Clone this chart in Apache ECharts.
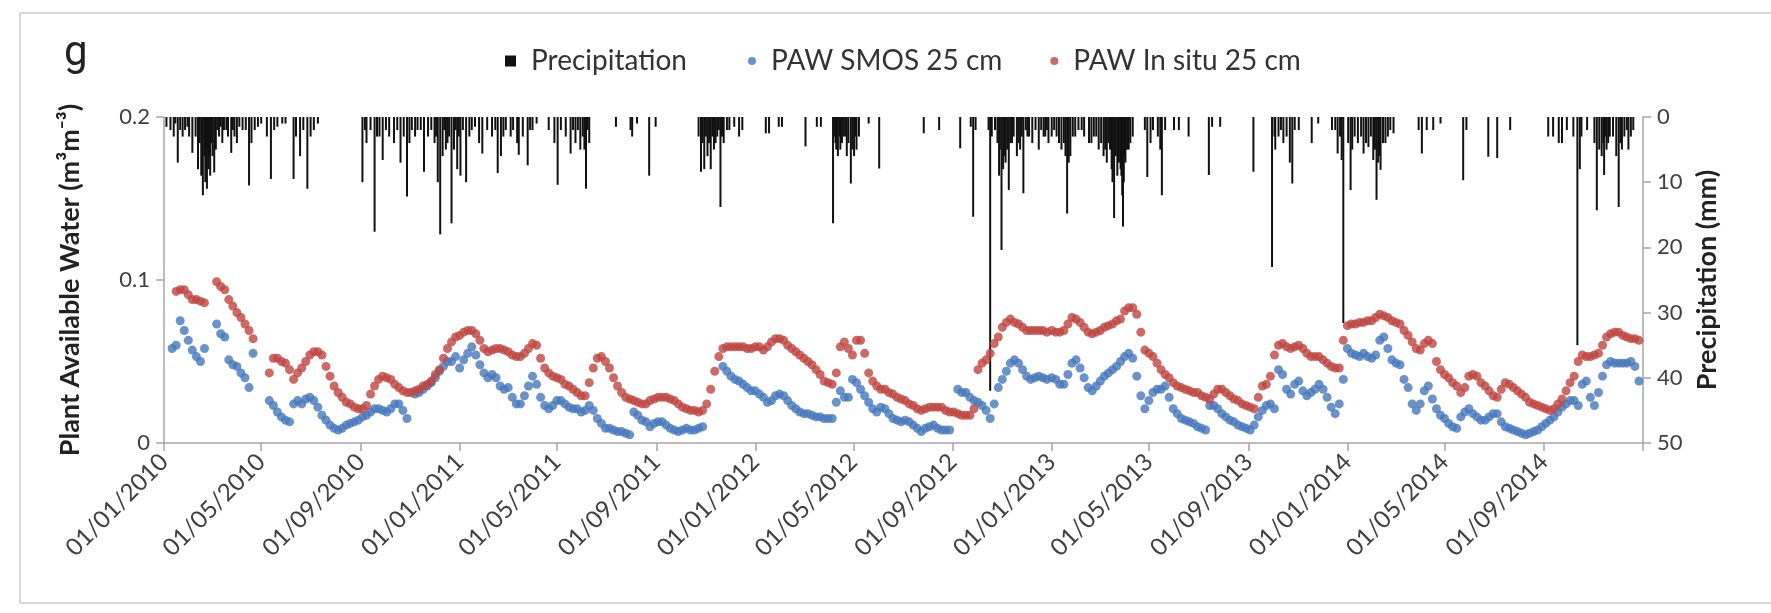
<!DOCTYPE html>
<html>
<head>
<meta charset="utf-8">
<script src="https://cdn.jsdelivr.net/npm/echarts@6/dist/echarts.min.js"></script>
<style>
  html, body { margin: 0; padding: 0; background: #ffffff; }
  #chart { width: 1771px; height: 613px; }
</style>
</head>
<body>
<div id="chart"></div>
<script>
// Plant available water at 25 cm (m3/m3), one value every 5 days from 1 January of each year.
// null marks days without a value.
const smos2010 = [null, null, 0.058, 0.060, 0.075, 0.069, 0.063, 0.057, 0.053, 0.050,
  0.058, null, null, 0.073, 0.067, 0.065, 0.051, 0.048, 0.047, 0.043,
  0.040, 0.034, 0.055, null, null, null, 0.026, 0.023, 0.019, 0.016,
  0.014, 0.013, 0.024, 0.026, 0.024, 0.027, 0.028, 0.026, 0.022, 0.017,
  0.014, 0.011, 0.009, 0.008, 0.009, 0.011, 0.012, 0.013, 0.014, 0.016,
  0.017, 0.019, 0.021, 0.021, 0.020, 0.019, 0.021, 0.024, 0.024, 0.020,
  0.015, null, 0.030, 0.031, 0.033, 0.035, 0.037, 0.040, 0.044, 0.047,
  0.050, 0.050, 0.053];
const situ2010 = [null, null, null, 0.093, 0.094, 0.094, 0.091, 0.088, 0.088, 0.087,
  0.086, null, null, 0.099, 0.096, 0.094, 0.088, 0.084, 0.080, 0.077,
  0.073, 0.069, 0.064, null, null, null, 0.043, 0.052, 0.052, 0.050,
  0.049, 0.045, 0.039, 0.043, 0.046, 0.050, 0.054, 0.056, 0.056, 0.054,
  0.047, 0.041, 0.035, 0.031, 0.028, 0.025, 0.024, 0.022, 0.021, 0.021,
  0.023, 0.030, 0.035, 0.039, 0.041, 0.040, 0.039, 0.036, 0.034, 0.032,
  0.031, 0.031, 0.032, 0.033, 0.035, 0.036, 0.038, 0.042, 0.045, 0.052,
  0.058, 0.062, 0.065];
const smos2011 = [0.046, 0.051, 0.055, 0.059, 0.054, 0.048, 0.043, 0.040, 0.042, 0.040,
  0.035, 0.033, 0.034, 0.028, 0.024, 0.024, 0.029, 0.035, 0.041, 0.036,
  0.028, 0.023, 0.021, 0.023, 0.026, 0.026, 0.024, 0.022, 0.021, 0.021,
  0.019, 0.020, 0.023, 0.020, 0.015, 0.012, 0.009, 0.009, 0.008, 0.007,
  0.007, 0.006, 0.005, 0.019, 0.017, 0.014, 0.013, 0.010, 0.012, 0.013,
  0.013, 0.011, 0.009, 0.008, 0.007, 0.008, 0.009, 0.008, 0.008, 0.009,
  0.010, null, null, null, null, 0.047, 0.044, 0.041, 0.039, 0.038,
  0.036, 0.034, 0.032];
const situ2011 = [0.066, 0.068, 0.069, 0.069, 0.067, 0.063, 0.058, 0.056, 0.057, 0.058,
  0.058, 0.057, 0.056, 0.054, 0.053, 0.053, 0.055, 0.058, 0.061, 0.060,
  0.052, 0.046, 0.043, 0.041, 0.040, 0.039, 0.036, 0.035, 0.033, 0.031,
  0.029, 0.029, 0.037, 0.046, 0.052, 0.053, 0.050, 0.046, 0.040, 0.035,
  0.031, 0.028, 0.027, 0.026, 0.025, 0.024, 0.024, 0.026, 0.027, 0.028,
  0.028, 0.028, 0.027, 0.026, 0.024, 0.022, 0.021, 0.020, 0.020, 0.019,
  0.020, 0.024, 0.033, 0.044, 0.053, 0.058, 0.059, 0.059, 0.059, 0.059,
  0.059, 0.058, 0.058];
const smos2012 = [0.032, 0.030, 0.028, 0.025, 0.026, 0.029, 0.030, 0.029, 0.026, 0.023,
  0.021, 0.019, 0.018, 0.018, 0.017, 0.016, 0.016, 0.015, 0.015, 0.015,
  0.025, 0.032, 0.028, 0.028, 0.039, 0.037, 0.033, 0.029, 0.025, 0.021,
  0.019, 0.022, 0.021, 0.018, 0.015, 0.014, 0.013, 0.014, 0.013, 0.011,
  0.009, 0.007, 0.009, 0.010, 0.011, 0.009, 0.008, 0.008, 0.008, null,
  0.033, 0.031, 0.031, 0.028, 0.026, 0.025, 0.023, 0.020, 0.015, 0.024,
  0.034, 0.039, 0.044, 0.049, 0.051, 0.049, 0.045, 0.041, 0.039, 0.040,
  0.041, 0.040, 0.039];
const situ2012 = [0.059, 0.059, 0.057, 0.059, 0.062, 0.064, 0.064, 0.063, 0.060, 0.058,
  0.056, 0.054, 0.052, 0.050, 0.048, 0.045, 0.042, 0.038, 0.037, 0.036,
  0.043, 0.059, 0.062, 0.058, 0.054, 0.063, 0.063, 0.055, 0.043, 0.038,
  0.035, 0.033, 0.033, 0.031, 0.030, 0.028, 0.027, 0.026, 0.024, 0.023,
  0.021, 0.020, 0.021, 0.022, 0.022, 0.022, 0.022, 0.020, 0.019, 0.019,
  0.018, 0.017, 0.017, 0.017, 0.021, 0.045, 0.049, 0.051, 0.055, 0.061,
  0.065, 0.071, 0.074, 0.076, 0.074, 0.073, 0.071, 0.069, 0.069, 0.069,
  0.069, 0.069, 0.068];
const smos2013 = [0.040, 0.039, 0.036, 0.036, 0.042, 0.049, 0.051, 0.046, 0.040, 0.034,
  0.032, 0.035, 0.038, 0.041, 0.043, 0.045, 0.047, 0.050, 0.053, 0.055,
  0.052, 0.041, 0.029, 0.021, 0.026, 0.031, 0.033, 0.033, 0.035, 0.028,
  0.021, 0.018, 0.015, 0.014, 0.013, 0.012, 0.010, 0.009, 0.008, 0.023,
  0.023, 0.021, 0.018, 0.016, 0.014, 0.013, 0.011, 0.010, 0.009, 0.008,
  0.011, 0.016, 0.020, 0.023, 0.024, 0.021, 0.045, 0.042, 0.033, 0.030,
  0.036, 0.038, 0.032, 0.029, 0.031, 0.033, 0.036, 0.033, 0.028, 0.022,
  0.018, 0.024, 0.039];
const situ2013 = [0.069, 0.068, 0.068, 0.069, 0.073, 0.077, 0.076, 0.074, 0.071, 0.068,
  0.067, 0.068, 0.069, 0.071, 0.072, 0.073, 0.075, 0.076, 0.081, 0.083,
  0.083, 0.079, 0.068, 0.057, 0.055, 0.053, 0.049, 0.045, 0.042, 0.040,
  0.037, 0.035, 0.034, 0.033, 0.032, 0.031, 0.031, 0.029, 0.028, 0.027,
  0.030, 0.033, 0.033, 0.031, 0.029, 0.027, 0.026, 0.024, 0.023, 0.022,
  0.021, 0.028, 0.035, 0.036, 0.041, 0.054, 0.060, 0.061, 0.059, 0.058,
  0.059, 0.060, 0.058, 0.055, 0.053, 0.053, 0.053, 0.051, 0.049, 0.047,
  0.046, 0.046, 0.063];
const smos2014 = [0.058, 0.055, 0.054, 0.053, 0.055, 0.053, 0.052, 0.054, 0.063, 0.065,
  0.058, 0.051, 0.049, 0.048, 0.039, 0.034, 0.024, 0.020, 0.024, 0.032,
  0.035, 0.027, 0.021, 0.017, 0.015, 0.012, 0.010, 0.009, 0.016, 0.019,
  0.021, 0.018, 0.016, 0.014, 0.014, 0.016, 0.018, 0.018, 0.013, 0.010,
  0.009, 0.008, 0.007, 0.006, 0.005, 0.006, 0.007, 0.008, 0.010, 0.012,
  0.014, 0.016, 0.019, 0.022, 0.024, 0.026, 0.026, 0.023, 0.036, 0.038,
  0.028, 0.023, 0.031, 0.041, 0.048, 0.050, 0.049, 0.049, 0.049, 0.049,
  0.050, 0.047, 0.038];
const situ2014 = [0.072, 0.073, 0.073, 0.074, 0.074, 0.075, 0.075, 0.077, 0.079, 0.078,
  0.077, 0.075, 0.074, 0.073, 0.069, 0.066, 0.062, 0.058, 0.057, 0.061,
  0.063, 0.061, 0.050, 0.045, 0.042, 0.040, 0.037, 0.035, 0.031, 0.034,
  0.041, 0.042, 0.041, 0.037, 0.035, 0.032, 0.029, 0.028, 0.033, 0.037,
  0.036, 0.034, 0.032, 0.030, 0.028, 0.025, 0.024, 0.023, 0.022, 0.021,
  0.020, 0.021, 0.024, 0.027, 0.032, 0.037, 0.041, 0.050, 0.054, 0.053,
  0.053, 0.054, 0.055, 0.060, 0.065, 0.067, 0.068, 0.068, 0.066, 0.065,
  0.064, 0.064, 0.063];

// Daily precipitation (mm) as [day of year counted from 1 January = 0, amount]
const precip2010 = [[3, 1.5], [8, 2], [12, 3], [14, 1], [17, 7], [20, 2], [23, 3], [26, 2], [29, 1.5], [31, 3],
  [35, 5.5], [39, 3], [42, 8], [44, 4], [46, 9], [48, 12], [50, 6], [51, 10], [52, 7], [53, 11],
  [54, 5], [55, 8], [56, 6], [57, 9], [58, 4], [60, 6], [62, 8.5], [64, 5], [66, 2], [68, 3],
  [70, 1.5], [72, 4], [74, 2], [77, 2], [79, 3], [83, 5.5], [85, 2], [87, 3], [90, 4], [93, 1.5],
  [97, 2], [101, 2], [105, 10.5], [108, 4], [112, 2], [116, 1.5], [120, 1], [127, 3], [132, 9.5], [136, 2],
  [140, 1.5], [146, 1], [150, 1], [160, 9.5], [163, 3], [168, 6], [172, 2], [177, 11], [181, 3], [185, 2],
  [190, 1], [245, 10], [248, 2], [250, 4], [255, 2], [260, 17.6], [263, 3], [266, 3], [270, 6.6], [274, 2],
  [278, 3], [284, 4], [288, 2], [292, 7], [296, 3], [300, 12.2], [303, 4], [306, 2], [310, 3], [313, 2],
  [317, 2], [321, 8.4], [326, 3], [330, 2], [334, 4], [336, 3], [338, 10], [341, 18], [344, 6], [346, 2],
  [348, 5], [350, 4], [352, 3], [355, 16.3], [358, 5], [360, 2], [362, 8], [364, 3]];
const precip2011 = [[1, 9], [4, 2], [8, 10], [12, 3], [15, 2], [19, 1.5], [24, 4], [28, 5.6], [34, 2], [40, 3],
  [44, 2], [47, 8.6], [51, 6], [54, 3], [57, 2], [63, 3], [66, 2], [71, 4], [73, 5.8], [78, 3],
  [84, 7.4], [87, 2], [90, 2], [95, 1], [110, 2], [117, 4], [121, 10.4], [125, 2], [131, 3], [137, 5.6],
  [140, 2], [143, 4], [146, 2], [149, 5], [152, 3], [154, 5], [156, 11], [158, 2], [160, 4], [193, 1.5],
  [211, 2], [213, 3], [219, 1], [234, 9], [242, 1.5], [295, 3], [298, 8.4], [300, 4], [302, 8], [304, 3],
  [306, 6], [308, 4], [310, 8], [312, 3], [314, 5], [316, 4], [318, 3], [320, 2], [322, 13.8], [324, 3],
  [326, 4], [330, 2], [333, 2], [339, 1.5], [345, 3], [349, 2]];
const precip2012 = [[13, 2.5], [17, 2.5], [29, 1.5], [33, 1.5], [62, 4.5], [76, 1.5], [81, 1.5], [96, 16.3], [98, 3], [99, 4],
  [100, 5], [102, 6], [104, 3], [105, 5], [107, 4], [109, 3], [111, 3], [113, 6], [115, 4], [118, 10.2],
  [120, 5], [122, 6], [124, 3], [125, 5], [128, 3], [140, 1], [153, 7.9], [208, 2.5], [227, 2], [253, 4.8],
  [266, 1.5], [269, 15.3], [272, 2], [288, 2], [290, 42], [292, 3], [296, 2], [299, 4], [301, 9], [302, 5],
  [304, 20.4], [306, 8], [308, 6], [309, 7], [311, 5], [313, 11.2], [315, 4], [317, 4], [319, 3], [323, 6],
  [325, 4], [327, 5], [329, 3], [331, 11.7], [334, 2], [336, 3], [338, 3], [342, 4], [346, 2], [350, 5],
  [353, 2], [356, 3], [358, 3], [360, 2], [362, 4]];
const precip2013 = [[0, 3], [3, 2], [6, 3], [9, 4], [12, 5], [15, 4], [17, 6], [19, 14.8], [21, 7], [23, 6],
  [26, 3], [29, 3], [33, 2], [37, 2], [40, 3], [46, 4], [49, 4], [52, 3], [55, 3], [58, 5],
  [61, 4], [64, 6], [66, 5], [68, 7], [70, 4], [72, 5], [74, 8], [75, 10], [77, 15.5], [79, 6],
  [81, 9], [83, 7], [85, 8], [86, 9], [87, 12], [88, 16.8], [89, 10], [90, 6], [91, 7], [93, 5],
  [95, 5], [97, 4], [100, 3], [115, 2], [118, 9.2], [122, 4], [125, 2], [131, 3], [134, 5], [136, 12],
  [140, 2], [151, 2], [157, 2], [169, 3], [194, 8.9], [198, 1.5], [208, 1.5], [249, 8.4], [272, 23], [275, 3],
  [276, 5], [280, 3], [283, 2], [286, 4], [290, 3], [294, 7], [297, 10.2], [300, 2], [305, 2], [321, 4],
  [329, 1], [346, 2], [350, 2], [353, 5.6], [356, 3], [358, 6.6], [360, 31.6]];
const precip2014 = [[1, 4], [4, 11.2], [6, 5], [9, 3], [13, 4], [17, 3], [20, 5.6], [23, 4], [26, 4.6], [29, 3],
  [32, 6.6], [34, 5], [36, 12.7], [38, 7], [40, 6], [41, 8.1], [44, 4], [47, 4], [50, 3], [53, 2],
  [57, 2.5], [88, 2], [92, 5.6], [98, 2], [106, 2], [115, 1], [143, 9.7], [147, 2], [174, 6.1], [185, 6.3],
  [201, 2], [248, 3], [254, 3], [261, 4], [265, 4], [271, 2], [279, 3], [284, 35], [287, 8], [289, 3],
  [296, 2], [305, 4], [308, 14.3], [311, 5], [314, 6], [316, 4], [317, 8.9], [319, 3], [320, 5], [322, 4],
  [324, 3], [328, 3], [332, 6], [335, 13.8], [337, 4], [339, 5], [342, 3], [345, 2], [347, 5], [350, 3],
  [353, 2]];

// Axis ticks
const pawTicks = [0, 0.1, 0.2];
const rainTicks = [0, 10, 20, 30, 40, 50];
const dateTickMonths = ['01', '05', '09'];
const firstDay = '2010-01-01';
const lastDay = '2015-01-01';

const DAY = 86400000;
function dateAt(year, offset) {
  return new Date(Date.UTC(year, 0, 1) + offset * DAY).toISOString().slice(0, 10);
}

// One category per day, so marks sit at their true date
const days = [];
for (let t = Date.parse(firstDay); t <= Date.parse(lastDay); t += DAY) {
  days.push(new Date(t).toISOString().slice(0, 10));
}

function pawPoints(year, values) {
  const pts = [];
  values.forEach((v, i) => { if (v !== null) pts.push([dateAt(year, i * 5), v]); });
  return pts;
}
function rainPoints(year, rows) {
  return rows.map(([d, mm]) => [dateAt(year, d), mm]);
}

const smosData = [].concat(
  pawPoints(2010, smos2010), pawPoints(2011, smos2011), pawPoints(2012, smos2012),
  pawPoints(2013, smos2013), pawPoints(2014, smos2014));
const situData = [].concat(
  pawPoints(2010, situ2010), pawPoints(2011, situ2011), pawPoints(2012, situ2012),
  pawPoints(2013, situ2013), pawPoints(2014, situ2014));
const rainData = [].concat(
  rainPoints(2010, precip2010), rainPoints(2011, precip2011), rainPoints(2012, precip2012),
  rainPoints(2013, precip2013), rainPoints(2014, precip2014));

const isTickDay = (v) => v.slice(8) === '01' && dateTickMonths.includes(v.slice(5, 7));
const FONT = 'Lato, "Open Sans", sans-serif';
const AXIS_GREY = '#a6a6a6';
const LABEL = '#404040';

const chart = echarts.init(document.getElementById('chart'), null, { renderer: 'canvas' });
chart.setOption({
  animation: false,
  backgroundColor: '#ffffff',
  textStyle: { fontFamily: FONT },
  title: {
    text: 'g', left: 59, top: 28,
    textStyle: { fontSize: 42, fontWeight: 'normal', color: '#222', fontFamily: 'Roboto, sans-serif' }
  },
  graphic: [
    {
      type: 'rect', silent: true, z: -1,
      shape: { x: 20, y: 13, width: 1800, height: 590 },
      style: { fill: 'none', stroke: '#d9d9d9', lineWidth: 2 }
    }
  ],
  legend: [
    {
      left: 500, top: 42, itemWidth: 11, itemHeight: 11,
      textStyle: { fontSize: 28, color: '#333', fontFamily: FONT, padding: [0, 0, 0, 10] },
      data: [{ name: 'Precipitation', icon: 'rect' }]
    },
    {
      left: 743, top: 42, itemWidth: 8, itemHeight: 8, itemGap: 48,
      textStyle: { fontSize: 28, color: '#333', fontFamily: FONT, padding: [0, 0, 0, 10] },
      data: [{ name: 'PAW SMOS 25 cm', icon: 'circle' }, { name: 'PAW In situ 25 cm', icon: 'circle' }]
    }
  ],
  grid: { left: 164, right: 128, top: 117, bottom: 170, containLabel: false },
  xAxis: {
    type: 'category',
    data: days,
    boundaryGap: false,
    axisLine: { lineStyle: { color: AXIS_GREY, width: 1.5 } },
    axisTick: { interval: (i, v) => isTickDay(v), length: 8, lineStyle: { color: AXIS_GREY, width: 1.5 } },
    axisLabel: {
      interval: (i, v) => isTickDay(v) && v !== lastDay,
      rotate: 45, margin: 15, fontSize: 24, color: LABEL, fontFamily: FONT,
      formatter: (v) => v.slice(8) + '/' + v.slice(5, 7) + '/' + v.slice(0, 4)
    },
    splitLine: { show: false }
  },
  yAxis: [
    {
      type: 'value', min: pawTicks[0], max: pawTicks[pawTicks.length - 1], interval: pawTicks[1] - pawTicks[0],
      name: 'Plant Available Water (m³m⁻³)', nameLocation: 'middle', nameRotate: 90, nameGap: 80,
      nameTextStyle: { fontSize: 27, fontWeight: 'bold', color: '#222', fontFamily: FONT },
      axisLine: { show: true, lineStyle: { color: AXIS_GREY, width: 1.5 } },
      axisTick: { show: true, length: 8, lineStyle: { color: AXIS_GREY, width: 1.5 } },
      axisLabel: { fontSize: 22, color: LABEL, margin: 14, fontFamily: FONT },
      splitLine: { show: false }
    },
    {
      type: 'value', position: 'right', inverse: true,
      min: rainTicks[0], max: rainTicks[rainTicks.length - 1], interval: rainTicks[1] - rainTicks[0],
      name: 'Precipitation (mm)', nameLocation: 'middle', nameRotate: 90, nameGap: 44,
      nameTextStyle: { fontSize: 27, fontWeight: 'bold', color: '#222', fontFamily: FONT },
      axisLine: { show: true, lineStyle: { color: AXIS_GREY, width: 1.5 } },
      axisTick: { show: true, length: 8, lineStyle: { color: AXIS_GREY, width: 1.5 } },
      axisLabel: { fontSize: 22, color: LABEL, margin: 14, fontFamily: FONT },
      splitLine: { show: false }
    }
  ],
  series: [
    {
      name: 'Precipitation', type: 'bar', yAxisIndex: 1, data: rainData,
      barWidth: 2, itemStyle: { color: '#111111' }, z: 1
    },
    {
      name: 'PAW SMOS 25 cm', type: 'scatter', yAxisIndex: 0, data: smosData,
      symbol: 'circle', symbolSize: 9, itemStyle: { color: '#4678BD' }, z: 2
    },
    {
      name: 'PAW In situ 25 cm', type: 'scatter', yAxisIndex: 0, data: situData,
      symbol: 'circle', symbolSize: 9, itemStyle: { color: '#BF4541' }, z: 3
    }
  ]
});
</script>
</body>
</html>
